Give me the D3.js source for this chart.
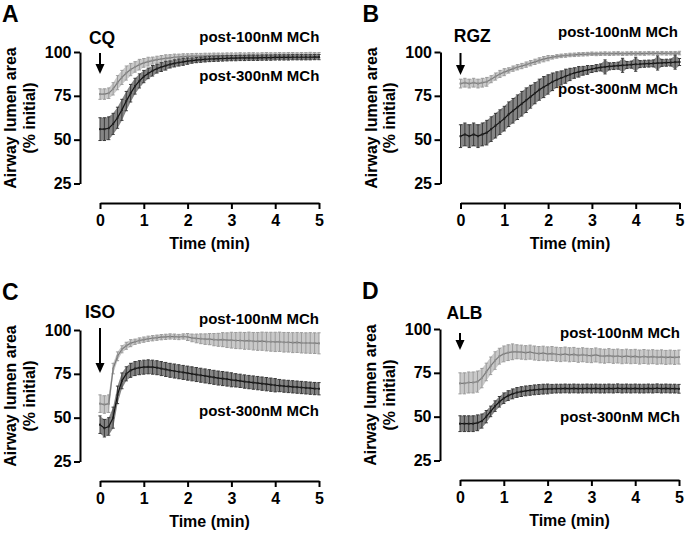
<!DOCTYPE html>
<html><head><meta charset="utf-8">
<script src="https://cdn.jsdelivr.net/npm/d3@7"></script>
<style>
body{margin:0;background:#fff}
text{font-family:"Liberation Sans",Arial,Helvetica,sans-serif;font-weight:bold;fill:#000}
</style>
</head><body>
<svg id="chart" width="685" height="534"></svg>
<script>
// ---------- data ----------
const TIME = [0,0.1,0.2,0.3,0.4,0.5,0.6,0.7,0.8,0.9,1.0,1.1,1.2,1.3,1.4,1.5,1.6,1.7,1.8,1.9,2.0,2.1,2.2,2.3,2.4,2.5,2.6,2.7,2.8,2.9,3.0,3.1,3.2,3.3,3.4,3.5,3.6,3.7,3.8,3.9,4.0,4.1,4.2,4.3,4.4,4.5,4.6,4.7,4.8,4.9,5.0];
const Y_TICKS = [25,50,75,100];
const X_TICKS = [0,1,2,3,4,5];
const PANEL_LETTERS = ["A","B","C","D"];
const DRUGS = ["CQ","RGZ","ISO","ALB"];
const SERIES_NAMES = ["post-100nM MCh","post-300nM MCh"];
const Y_TITLE = ["Airway lumen area","(% initial)"];
const X_TITLE = "Time (min)";

const A_100 = [76,76,76.5,79,82.5,85.5,88,90,91.5,92.8,93.8, 94.5,95.1,95.6,96,96.4,96.7,97,97.2,97.4,97.5, 97.6,97.7,97.7,97.8,97.8,97.9,97.9,97.9,98,98, 98,98.1,98,98.1,98.1,98,98.1,98.2,98.1,98.1, 98.2,98.1,98.2,98.2,98.1,98.2,98.2,98.3,98.2,98.2];
const A_100_SEM = [3,3,3,3.5,4,4,4,3.5,3,3,2.5, 2.5,2,2,2,2,1.8,1.8,1.6,1.6,1.5, 1.5,1.5,1.5,1.5,1.5,1.5,1.5,1.5,1.5,1.5, 1.5,1.5,1.5,1.5,1.5,1.5,1.5,1.5,1.5,1.5, 1.5,1.5,1.5,1.5,1.5,1.5,1.5,1.5,1.5,1.5];
const A_300 = [56,56,56.5,59,62.5,67,72,76.5,80.5,83.5,86, 87.8,89.3,90.5,91.4,92.2,92.9,93.5,94,94.4,94.8, 95.1,95.4,95.6,95.8,96,96.1,96.2,96.3,96.4,96.5, 96.5,96.6,96.6,96.7,96.7,96.7,96.8,96.8,96.8,96.9, 96.9,96.9,96.9,97,97,97,97,97,97.1,97.1];
const A_300_SEM = [6.5,6.5,6.5,6,6,6,5.5,5,4.5,4,3.5, 3,3,2.5,2.5,2.5,2,2,2,2,1.8, 1.5,1.5,1.5,1.5,1.5,1.5,1.5,1.5,1.5,1.5, 1.5,1.5,1.5,1.5,1.5,1.5,1.5,1.5,1.5,1.5, 1.5,1.5,1.5,1.5,1.5,1.5,1.5,1.5,1.5,1.5];

const B_100 = [82,82.5,82,82.5,82,82.5,83,84.5,86,87.5,88.5, 89.5,90.5,91.3,92,92.8,93.6,94.4,95.2,95.9,96.5, 97,97.5,97.8,98,98.3,98.4,98.6,98.7,98.8,99, 98.9,99,99.1,99,99.1,99.2,99,99.1,99.2,99.1, 99.2,99.1,99.3,99.2,99.2,99.3,99.2,99.3,99.3,99.4];
const B_100_SEM = [2.5,2.5,2.5,2.5,2.5,2.5,2.5,2,2,2,2, 1.5,1.5,1.5,1.5,1.5,1.5,1.5,1.5,1.5,1.5, 1,1,1,1,1,1,1,1,1,1, 1,1,1,1,1,1,1,1,1,1, 1,1,1,1,1,1,1,1,1,1];
const B_300 = [52,53,52,53,52,53,54,56,58,60,62, 64.5,66.5,68.5,70.5,72.5,74.5,76.5,78.5,80,81.5, 83,84.2,85.2,86.2,87.2,88,88.7,89.3,89.8,90.3, 90.8,91.2,91.5,91.8,92,92.2,92.4,92.6,92.8,93, 93.1,93.3,93.4,93.5,93.7,93.8,93.9,94,94.2,94.3];
const B_300_SEM = [6.5,6.5,6.5,6.5,6.5,6.5,7,7,7,7,7, 7,7,7,7,7,6.5,6,6,6,5.5, 5,4.5,4,4,3.5,3,3,2.5,2.5,2, 2,2,4,2,2,2,4,2,2,4, 2,2,2,2,4,2,2,2,4,2];

const C_100 = [58,57.5,58,78,85,89,91,92.5,93.3,94,94.5, 95,95.3,95.6,95.9,96.1,96.3,96.2,96,96.3,96, 95.5,95.2,95,94.8,94.8,94.5,94.4,94.5,94.2,94.2, 94,94,93.8,93.9,93.6,93.5,93.6,93.4,93.3,93.2, 93.3,93,93,92.8,92.9,92.7,92.6,92.6,92.5,92.4];
const C_100_SEM = [5,5,5,3,2.5,2,2,2,1.5,1.5,1.5, 1.5,1.5,1.5,1.5,1.5,1.5,1.5,1.5,1.5,2, 2.2,2.5,2.8,3,3.2,3.5,3.7,4,4.2,4.5, 4.6,4.7,4.8,4.9,5,5.1,5.2,5.3,5.4,5.5, 5.5,5.6,5.6,5.7,5.7,5.8,5.8,5.9,5.9,6];
const C_300 = [46,44,45,50,63,71,75,77,78,78.5,78.8, 79,78.8,78.5,78,77.5,77,76.6,76.2,75.8,75.4, 75,74.6,74.2,73.8,73.4,73,72.6,72.3,72,71.6, 71.3,71,70.6,70.3,70,69.7,69.4,69.1,68.8,68.5, 68.3,68,67.8,67.6,67.4,67.2,67,66.8,66.6,66.5];
const C_300_SEM = [5,5,5,6,5,4.5,4,4,4,4,4, 4,4,4,4,4,4,4,4,4,4, 4,4,4,4,4,4,4,4,4,4, 3.8,3.8,3.8,3.8,3.8,3.8,3.8,3.8,3.8,3.8, 3.5,3.5,3.5,3.5,3.5,3.5,3.5,3.5,3.5,3.5];

const D_100 = [69,69,69.5,69.5,70,72,75.5,79,82,84.5,85.8, 86.5,87,87,86.8,86.5,86.8,86.3,86,86.2,85.8, 86,85.6,85.4,85.7,85.3,85.5,85,85.3,85,84.8, 85.2,84.7,84.5,84.8,84.4,84.6,84.2,84.5,84.2,84.4, 84,84.3,84,84.2,83.9,84.1,83.8,84,83.8,84];
const D_100_SEM = [6,6,6,6,6,5.5,5,5,5,4.5,4.5, 4.5,4.5,4,4,4,4,4,4,4,4, 4,4,4,4,4,4,4,4,4,4, 4,4,4,4,4,4,4,4,4,4, 4,4,4,4,4,4,4,4,4,4];
const D_300 = [46,46,46,46,46.5,47.5,50,53,56,58.5,60.5, 62,63,63.8,64.3,64.7,65,65.3,65.5,65.7,65.8, 65.9,66,66,66.1,66,66.1,66,66,66.1,66, 66.1,66,66,66.1,66,66.2,66,66.1,66,66.1, 66,66,66.1,66,66.2,66,66.1,66,66,65.9];
const D_300_SEM = [4.5,4.5,4.5,4.5,4.5,4,3.5,3,3,3,3, 2.8,2.8,2.8,2.8,2.8,2.8,2.8,2.8,2.8,2.8, 2.5,2.5,2.5,2.5,2.5,2.5,2.5,2.5,2.5,2.5, 2.5,2.5,2.5,2.5,2.5,2.5,2.5,2.5,2.5,2.5, 2.5,2.5,2.5,2.5,2.5,2.5,2.5,2.5,2.5,2.5];

const PANEL_SERIES = [
  [[A_100,A_100_SEM],[A_300,A_300_SEM]],
  [[B_100,B_100_SEM],[B_300,B_300_SEM]],
  [[C_100,C_100_SEM],[C_300,C_300_SEM]],
  [[D_100,D_100_SEM],[D_300,D_300_SEM]]
];

// ---------- layout ----------
const LAYOUT = [
  {ox:0,   oy:0,   drug:{x:102,y:44},   arrow:[53,74], lab:[[319.3,42],[319.3,80.7]]},
  {ox:360.5,oy:0,  drug:{x:111.8,y:41.5},arrow:[53,75], lab:[[317.5,36.7],[317.5,94]]},
  {ox:0,   oy:278, drug:{x:100,y:39.7}, arrow:[50,95], lab:[[319,46],[319,137.7]]},
  {ox:360, oy:277, drug:{x:104.5,y:42.3},arrow:[56,73], lab:[[320,60.7],[320,145]]}
];
const STYLE = [
  {band:"#c9c9c9", bar:"#9c9c9c", line:"#7a7a7a", mark:"#8e8e8e"},
  {band:"#858585", bar:"#3a3a3a", line:"#111",    mark:"#222"}
];

const svg = d3.select("#chart");

PANEL_LETTERS.forEach((letter, pi) => {
  const L = LAYOUT[pi];
  const g = svg.append("g").attr("transform", `translate(${L.ox},${L.oy})`);
  const x = d3.scaleLinear().domain([0,5]).range([100,319]);
  const y = d3.scaleLinear().domain([25,100]).range([183.5,52]);

  // series
  PANEL_SERIES[pi].forEach(([vals, sem], si) => {
    const st = STYLE[si];
    const pts = TIME.map((t,i) => ({t, m: vals[i], e: sem[i]}));
    g.append("path").datum(pts)
      .attr("d", d3.area().x(d => x(d.t)).y0(d => y(d.m - d.e)).y1(d => y(d.m + d.e)))
      .attr("fill", st.band);
    const eb = g.append("g").attr("stroke", st.bar).attr("stroke-width", 1).attr("fill","none");
    eb.selectAll("path.eb").data(pts).join("path")
      .attr("d", d => {
        const cx = x(d.t), lo = y(d.m - d.e), hi = y(d.m + d.e);
        return `M${cx},${lo}V${hi}M${cx-1.6},${lo}H${cx+1.6}M${cx-1.6},${hi}H${cx+1.6}`;
      });
    g.append("path").datum(pts)
      .attr("d", d3.line().x(d => x(d.t)).y(d => y(d.m)))
      .attr("fill","none").attr("stroke", st.line).attr("stroke-width", 1.2);
    g.append("g").selectAll("rect").data(pts).join("rect")
      .attr("x", d => x(d.t) - 1).attr("y", d => y(d.m) - 1)
      .attr("width", 2).attr("height", 2).attr("fill", st.mark);
  });

  // axes
  const ya = g.append("g").attr("transform","translate(80,0)")
    .call(d3.axisLeft(y).tickValues(Y_TICKS).tickSize(6).tickSizeOuter(0).tickPadding(2.5));
  const xa = g.append("g").attr("transform","translate(0,203)")
    .call(d3.axisBottom(x).tickValues(X_TICKS).tickSize(6).tickSizeOuter(0).tickPadding(6).tickFormat(d3.format("d")));
  [ya, xa].forEach(a => {
    a.select(".domain").attr("stroke","#000").attr("stroke-width",2);
    a.selectAll(".tick line").attr("stroke","#000").attr("stroke-width",2);
    a.selectAll(".tick text").attr("font-size",16).attr("font-family",null).style("fill","#000");
  });

  // titles
  g.append("text").attr("transform","translate(16,118) rotate(-90)")
    .attr("text-anchor","middle").attr("font-size",16).text(Y_TITLE[0]);
  g.append("text").attr("transform","translate(34.5,118) rotate(-90)")
    .attr("text-anchor","middle").attr("font-size",16).text(Y_TITLE[1]);
  g.append("text").attr("x",209.5).attr("y",249).attr("text-anchor","middle")
    .attr("font-size",16).text(X_TITLE);

  // panel letter
  g.append("text").attr("x",2).attr("y",22).attr("font-size",23).text(letter);

  // drug + arrow
  g.append("text").attr("x",L.drug.x).attr("y",L.drug.y).attr("text-anchor","middle")
    .attr("font-size",17.5).text(DRUGS[pi]);
  const ax = x(0), [a0,a1] = L.arrow;
  g.append("line").attr("x1",ax).attr("x2",ax).attr("y1",a0).attr("y2",a1-8)
    .attr("stroke","#000").attr("stroke-width",2);
  g.append("path").attr("d",`M${ax-4.5},${a1-10}L${ax+4.5},${a1-10}L${ax},${a1}Z`).attr("fill","#000");

  // series labels
  SERIES_NAMES.forEach((name, si) => {
    g.append("text").attr("x",L.lab[si][0]).attr("y",L.lab[si][1])
      .attr("text-anchor","end").attr("font-size",15).text(name);
  });
});
</script>
</body></html>
